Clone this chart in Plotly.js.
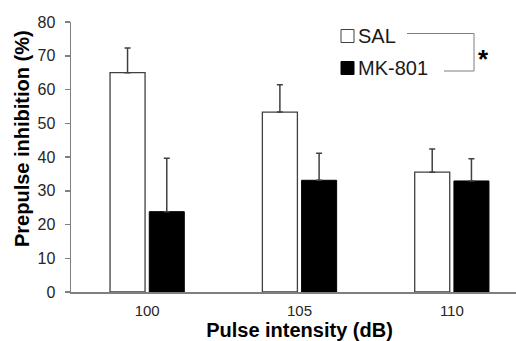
<!DOCTYPE html>
<html>
<head>
<meta charset="utf-8">
<script src="https://cdn.plot.ly/plotly-3.0.1.min.js"></script>
<style>
html, body { margin: 0; padding: 0; overflow: hidden; background: #fff; }
#chart { width: 528px; height: 341px; }
</style>
</head>
<body>
<div id="chart"></div>
<script>
// Data
const categories = ['100', '105', '110'];
const salName = 'SAL';
const mkName = 'MK-801';
const salValues = [65.0, 53.3, 35.5];
const salErrors = [7.3, 8.1, 6.9];
const mkValues = [23.8, 33.1, 32.9];
const mkErrors = [15.8, 8.0, 6.6];
const yTitle = 'Prepulse inhibition (%)';
const xTitle = 'Pulse intensity (dB)';
const sigMark = '*';

const W = 528, H = 341;
const M = { l: 71, r: 0, t: 22, b: 49 };
const pw = W - M.l - M.r, ph = H - M.t - M.b;
const px = x => (x - M.l) / pw;           // pixel -> paper x
const py = y => (H - M.b - y) / ph;       // pixel -> paper y

const xPos = categories.map((c, i) => i);
const font = 'Liberation Sans, Arial, sans-serif';
const axisGray = '#7f7f7f';
const dark = '#404040';

const traces = [
  {
    type: 'bar', name: salName, x: xPos, y: salValues,
    marker: { color: '#ffffff', line: { color: dark, width: 1.3 } },
    error_y: { type: 'data', array: salErrors, arrayminus: salValues.map(() => 0), symmetric: false,
               color: dark, thickness: 1.5, width: 3 },
    showlegend: false, hoverinfo: 'skip'
  },
  {
    type: 'bar', name: mkName, x: xPos, y: mkValues,
    marker: { color: '#000000', line: { color: '#000000', width: 1 } },
    error_y: { type: 'data', array: mkErrors, arrayminus: mkValues.map(() => 0), symmetric: false,
               color: dark, thickness: 1.5, width: 3 },
    showlegend: false, hoverinfo: 'skip'
  }
];

const layout = {
  width: W, height: H,
  margin: M,
  paper_bgcolor: '#ffffff', plot_bgcolor: '#ffffff',
  font: { family: font, color: '#262626' },
  barmode: 'group', bargap: 0.485, bargroupgap: 0.107,
  xaxis: {
    range: [-0.5, 2.5], tickvals: xPos, ticktext: categories,
    showline: true, linecolor: axisGray, linewidth: 2,
    ticks: '', showgrid: false, zeroline: false,
    tickfont: { size: 15, color: '#262626' }, ticklabelstandoff: 4,
    title: { text: xTitle, font: { size: 20, color: '#000', family: font, weight: 'bold' }, standoff: 6 }
  },
  yaxis: {
    range: [0, 80], dtick: 10, tick0: 0,
    showline: true, linecolor: axisGray, linewidth: 1.5,
    ticks: 'outside', ticklen: 5, tickcolor: axisGray, tickwidth: 1.5,
    showgrid: false, zeroline: false,
    tickfont: { size: 16, color: '#262626' }, ticklabelstandoff: 6
  },
  shapes: [
    { type: 'rect', xref: 'paper', yref: 'paper', x0: px(341), x1: px(354), y0: py(42.5), y1: py(29.5),
      fillcolor: '#ffffff', line: { color: dark, width: 1 } },
    { type: 'rect', xref: 'paper', yref: 'paper', x0: px(341), x1: px(354), y0: py(74.5), y1: py(61.5),
      fillcolor: '#000000', line: { color: '#000000', width: 1 } },
    { type: 'path', xref: 'paper', yref: 'paper',
      path: `M ${px(407)} ${py(33.5)} L ${px(474)} ${py(33.5)} L ${px(474)} ${py(71)} L ${px(444)} ${py(71)}`,
      line: { color: axisGray, width: 1 } }
  ],
  annotations: [
    { xref: 'paper', yref: 'paper', x: px(22), y: py(139), xanchor: 'center', yanchor: 'middle',
      textangle: -90, text: yTitle, showarrow: false,
      font: { size: 20, color: '#000', family: font, weight: 'bold' } },
    { xref: 'paper', yref: 'paper', x: px(356), y: py(36), xanchor: 'left', yanchor: 'middle',
      text: salName, showarrow: false, font: { size: 20, color: '#1a1a1a', family: font } },
    { xref: 'paper', yref: 'paper', x: px(356), y: py(68), xanchor: 'left', yanchor: 'middle',
      text: mkName, showarrow: false, font: { size: 20, color: '#1a1a1a', family: font } },
    { xref: 'paper', yref: 'paper', x: px(483.5), y: py(59), xanchor: 'center', yanchor: 'middle',
      text: sigMark, showarrow: false, font: { size: 26, color: '#000', family: font, weight: 'bold' } }
  ]
};

Plotly.newPlot('chart', traces, layout, { staticPlot: true, displayModeBar: false });
</script>
</body>
</html>
